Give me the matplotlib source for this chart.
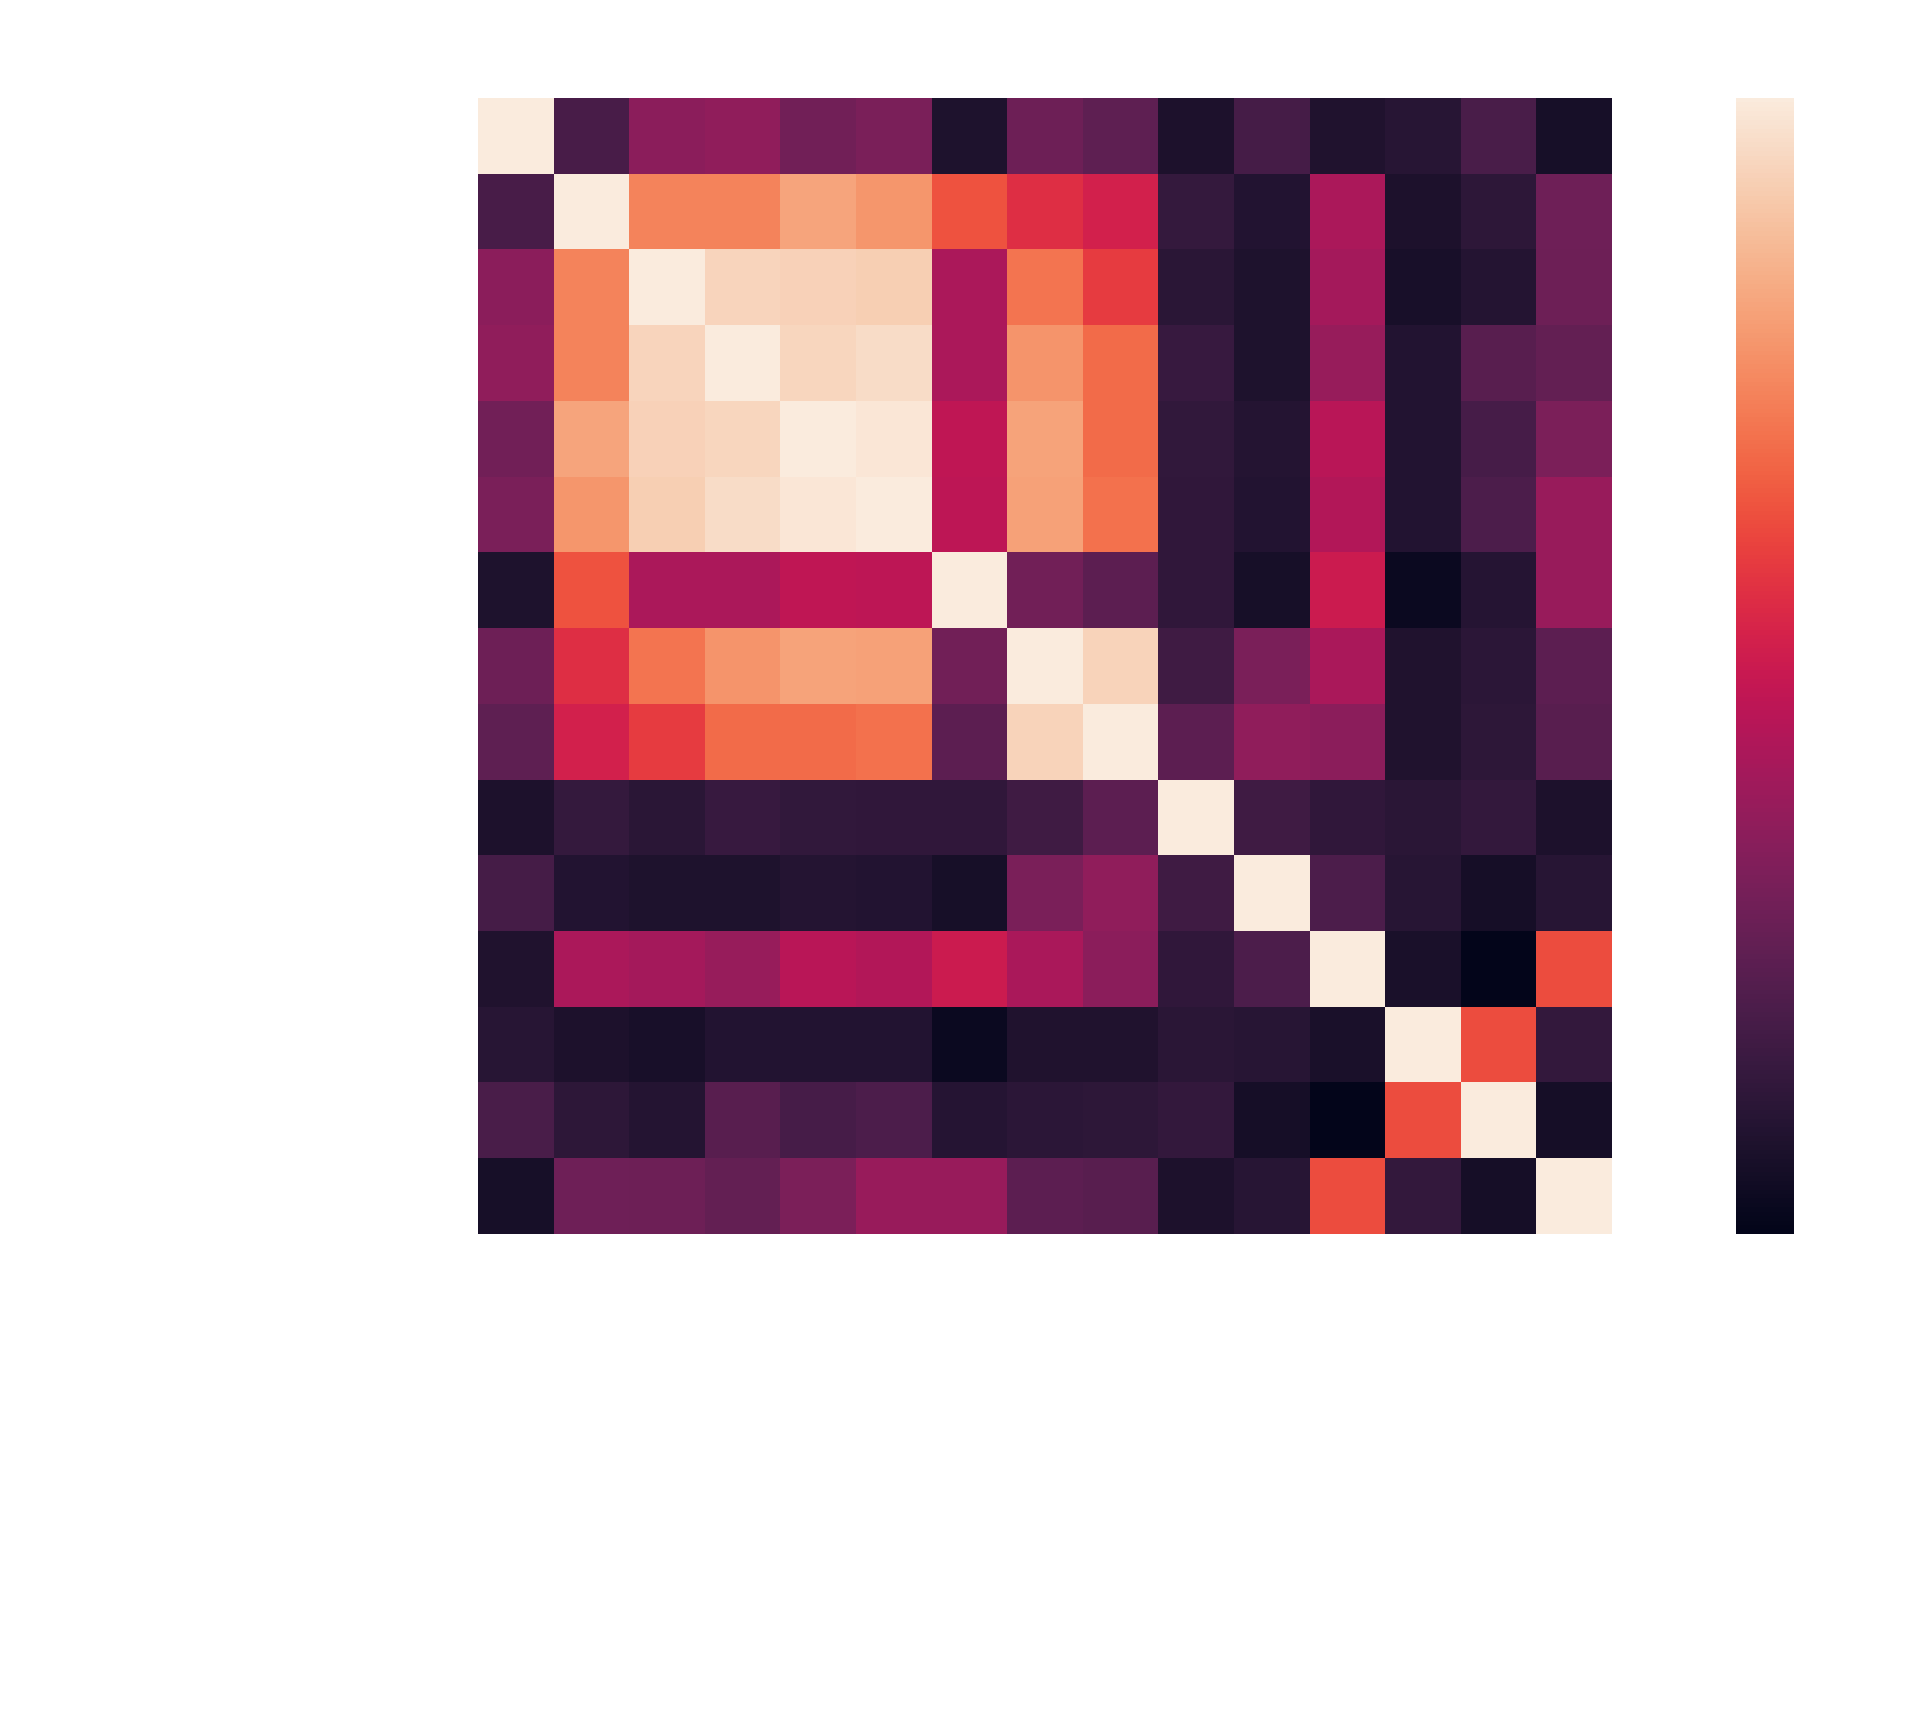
#!/usr/bin/env python3
# -*- coding: utf-8 -*-
"""
相关系数热力图 (rocket 配色, 无标签)
"""

import numpy as np
import matplotlib
matplotlib.use('Agg')
import matplotlib.pyplot as plt
import seaborn as sns

# 15 x 15 相关矩阵 (按颜色读出, 0 = 最暗, 1 = 对角线)
row_00 = [1.000, 0.190, 0.350, 0.360, 0.290, 0.310, 0.080, 0.280, 0.245, 0.075, 0.180, 0.085, 0.105, 0.195, 0.060]
row_01 = [0.190, 1.000, 0.740, 0.740, 0.820, 0.785, 0.640, 0.560, 0.520, 0.140, 0.090, 0.425, 0.075, 0.120, 0.285]
row_02 = [0.350, 0.740, 1.000, 0.940, 0.930, 0.925, 0.425, 0.710, 0.590, 0.110, 0.080, 0.410, 0.065, 0.095, 0.280]
row_03 = [0.360, 0.740, 0.940, 1.000, 0.945, 0.960, 0.425, 0.780, 0.690, 0.145, 0.080, 0.375, 0.090, 0.230, 0.255]
row_04 = [0.290, 0.820, 0.930, 0.945, 1.000, 0.985, 0.470, 0.815, 0.690, 0.130, 0.095, 0.455, 0.090, 0.185, 0.315]
row_05 = [0.310, 0.785, 0.925, 0.960, 0.985, 1.000, 0.465, 0.810, 0.700, 0.125, 0.090, 0.440, 0.090, 0.200, 0.380]
row_06 = [0.080, 0.640, 0.425, 0.425, 0.470, 0.465, 1.000, 0.290, 0.240, 0.125, 0.060, 0.500, 0.030, 0.100, 0.380]
row_07 = [0.280, 0.560, 0.710, 0.780, 0.815, 0.810, 0.290, 1.000, 0.935, 0.165, 0.310, 0.420, 0.085, 0.115, 0.240]
row_08 = [0.245, 0.520, 0.590, 0.690, 0.690, 0.700, 0.240, 0.935, 1.000, 0.240, 0.360, 0.350, 0.085, 0.120, 0.230]
row_09 = [0.075, 0.140, 0.110, 0.145, 0.130, 0.125, 0.125, 0.165, 0.240, 1.000, 0.165, 0.125, 0.110, 0.135, 0.075]
row_10 = [0.180, 0.090, 0.080, 0.080, 0.095, 0.090, 0.060, 0.310, 0.360, 0.165, 1.000, 0.200, 0.105, 0.055, 0.105]
row_11 = [0.085, 0.425, 0.410, 0.375, 0.455, 0.440, 0.500, 0.420, 0.350, 0.125, 0.200, 1.000, 0.070, 0.000, 0.625]
row_12 = [0.105, 0.075, 0.065, 0.090, 0.090, 0.090, 0.030, 0.085, 0.085, 0.110, 0.105, 0.070, 1.000, 0.625, 0.135]
row_13 = [0.195, 0.120, 0.095, 0.230, 0.185, 0.200, 0.100, 0.115, 0.120, 0.135, 0.055, 0.000, 0.625, 1.000, 0.055]
row_14 = [0.060, 0.285, 0.280, 0.255, 0.315, 0.380, 0.380, 0.240, 0.230, 0.075, 0.105, 0.625, 0.135, 0.055, 1.000]

rows = [row_00, row_01, row_02, row_03, row_04, row_05, row_06, row_07,
        row_08, row_09, row_10, row_11, row_12, row_13, row_14]


def main():
    corr = np.array(rows)

    fig = plt.figure(figsize=(19.2, 17.1), dpi=100)
    ax = fig.add_axes([0.249, 0.2784, 0.5906, 0.6643])
    cax = fig.add_axes([0.904, 0.2784, 0.0302, 0.6643])

    sns.heatmap(corr, ax=ax, cbar_ax=cax, cmap='rocket', vmin=0, vmax=1,
                xticklabels=False, yticklabels=False)

    # 刻度和文字都是白色 (原图不可见)
    ax.tick_params(colors='white')
    cax.tick_params(colors='white', length=0)
    cax.set_yticklabels([])

    plt.savefig('out.png', dpi=100, facecolor='white')
    plt.close()


if __name__ == '__main__':
    main()
